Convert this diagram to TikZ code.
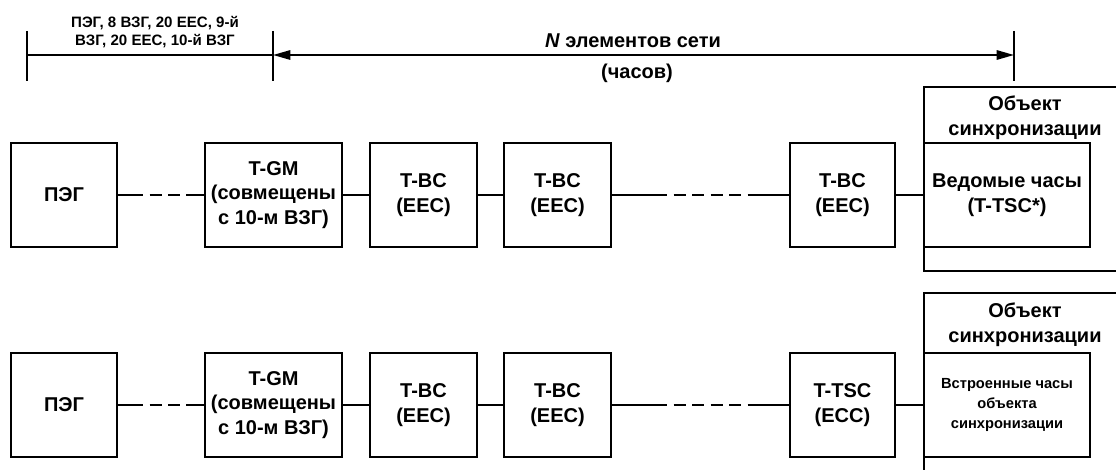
\documentclass[tikz,border=0pt]{standalone}
\usepackage{fontspec}
\setmainfont{Liberation Sans}
\usetikzlibrary{arrows.meta}

\begin{document}
\begin{tikzpicture}[x=0.75pt,y=-0.75pt,line width=1.5pt,
  blok/.style={draw,align=center,inner sep=0pt,minimum height=78pt,font=\bfseries\fontsize{15}{18.5}\selectfont},
  txt/.style={align=center,inner sep=0pt,font=\bfseries\fontsize{15}{18.5}\selectfont},
  small/.style={align=center,inner sep=0pt,font=\bfseries\fontsize{11.3}{13.5}\selectfont},
  smallbox/.style={blok,font=\bfseries\fontsize{11}{15}\selectfont},
  gap/.style={dash pattern=on 9pt off 4.9pt,dash phase=9pt}]
\useasboundingbox (0,0) rectangle (1116,470);

% Dimension line
\foreach \x in {27,273,1014}
  \draw (\x,31) -- (\x,81);
\coordinate (d0) at (27,55);
\coordinate (d1) at (273,55);
\coordinate (d2) at (1014,55);
\draw (d0) -- (d1);
\draw[{Triangle[length=13pt,width=7pt]}-{Triangle[length=13pt,width=7pt]}] (d1) -- (d2);
\node[small] (lblpeg) at (155,32) {ПЭГ, 8 ВЗГ, 20 EEC, 9-й\\ВЗГ, 20 EEC, 10-й ВЗГ};
\node[txt] (lbln) at (633,41) {\textit{N} элементов сети};
\node[txt] (lblch) at (637,73) {(часов)};

% Chains of clocks
\foreach \r/\y in {1/195,2/405} {
  \node[blok,minimum width=79.5pt] (peg\r) at (64,\y) {ПЭГ};
  \node[blok,minimum width=102.75pt] (tgm\r) at (273.5,\y) {T-GM\\(совмещены\\с 10-м ВЗГ)};
  \node[blok,minimum width=80.25pt] (bca\r) at (423.5,\y) {T-BC\\(EEC)};
  \node[blok,minimum width=80.25pt] (bcb\r) at (557.5,\y) {T-BC\\(EEC)};
  \coordinate (ga\r) at (143,\y);
  \coordinate (gb\r) at (186,\y);
  \coordinate (gc\r) at (667,\y);
  \coordinate (gd\r) at (748,\y);
  \draw (peg\r) -- (ga\r);
  \draw[gap] (ga\r) -- (gb\r);
  \draw (gb\r) -- (tgm\r);
  \draw (tgm\r) -- (bca\r);
  \draw (bca\r) -- (bcb\r);
  \draw (bcb\r) -- (gc\r);
  \draw[gap] (gc\r) -- (gd\r);
}

% Last element and slave clock
\node[blok,minimum width=78.75pt] (bcc1) at (842.5,195) {T-BC\\(EEC)};
\node[blok,minimum width=124.5pt] (clk1) at (1007,195) {Ведомые часы\\(T-TSC*)};
\node[blok,minimum width=78.75pt] (tsc2) at (842.5,405) {T-TSC\\(ECC)};
\node[smallbox,minimum width=124.5pt] (clk2) at (1007,405) {Встроенные часы\\объекта\\синхронизации};
\draw (gd1) -- (bcc1);
\draw (bcc1) -- (clk1);
\draw (gd2) -- (tsc2);
\draw (tsc2) -- (clk2);

% Synchronisation objects
\draw (1116,87) -- (924,87) -- (924,271) -- (1116,271);
\draw (1116,293) -- (924,293) -- (924,470);
\node[txt] (obj1) at (1025,118) {Объект\\синхронизации};
\node[txt] (obj2) at (1025,325) {Объект\\синхронизации};

\end{tikzpicture}
\end{document}
